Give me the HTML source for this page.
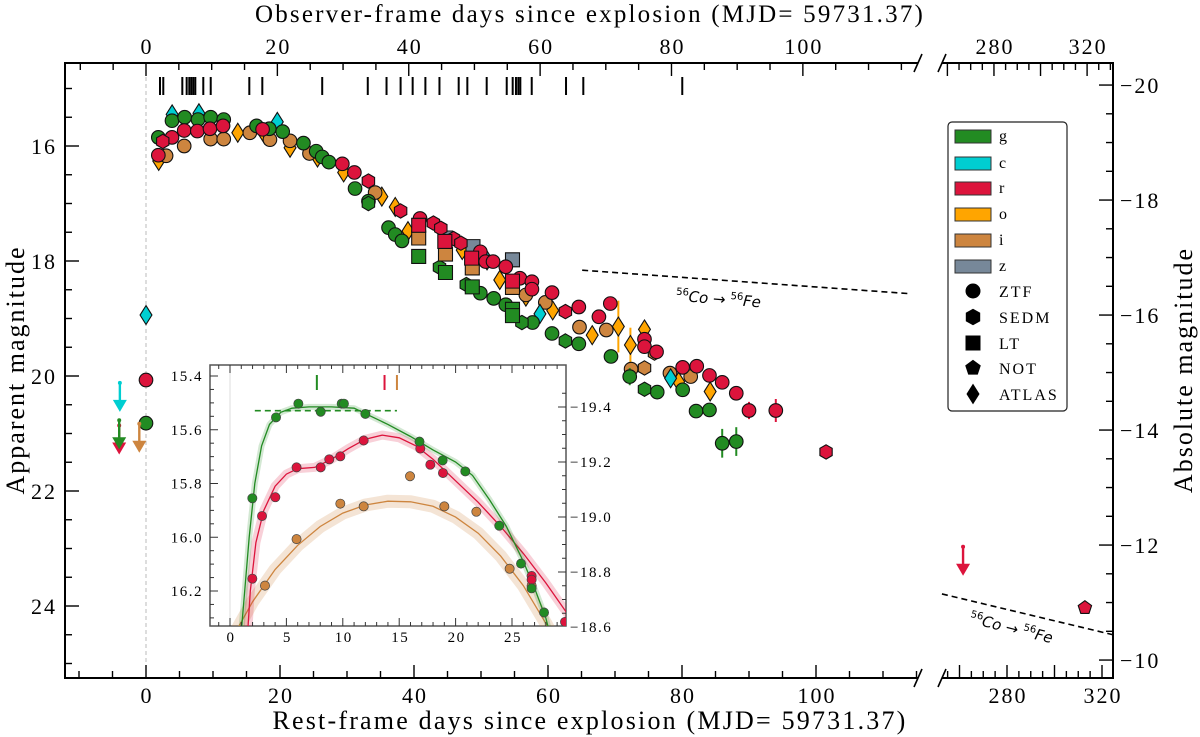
<!DOCTYPE html>
<html><head><meta charset="utf-8"><title>Light curve</title>
<style>
html,body{margin:0;padding:0;background:#fff;}
svg{display:block;font-family:"Liberation Serif","DejaVu Serif",serif;}
</style></head>
<body>
<svg id="chart" width="1200" height="737" viewBox="0 0 1200 737" xmlns="http://www.w3.org/2000/svg">
<defs>
<clipPath id="clipL"><rect x="65" y="63" width="853" height="615"/></clipPath>
<clipPath id="clipR"><rect x="942" y="63" width="171" height="615"/></clipPath>
<clipPath id="clipI"><rect x="210" y="365" width="356" height="261"/></clipPath>
</defs>
<text x="590" y="22" text-anchor="middle" font-size="25" letter-spacing="2.2">Observer-frame days since explosion (MJD= 59731.37)</text>
<text x="590" y="729" text-anchor="middle" font-size="26" letter-spacing="2.2">Rest-frame days since explosion (MJD= 59731.37)</text>
<text transform="translate(24,370) rotate(-90)" text-anchor="middle" font-size="26" letter-spacing="2">Apparent magnitude</text>
<text transform="translate(1192,370) rotate(-90)" text-anchor="middle" font-size="26" letter-spacing="2">Absolute magnitude</text>
<g id="axes"></g>
<g id="data"></g>
<g id="inset"></g>
<g id="legend"></g>
</svg>
<script>
// ---------- data (rest-frame day, apparent magnitude) ----------
const obsEpochs = [2.09,2.58,5.42,6.07,6.46,6.76,7.06,7.36,8.55,9.66,15.42,17.36,26.3,33.1,35.9,38.0,39.8,41.7,43.8,46.67,47.96,50.85,53.84,54.73,55.22,55.57,55.87,57.57,62.69,65.27,80.04];

const gZTF = [[1.84,15.85],[3.88,15.56],[5.77,15.50],[7.76,15.54],[9.65,15.50],[11.6,15.54],[16.5,15.65],[18.4,15.70],[20.4,15.75],[23.5,15.95],[25.4,16.09],[26.3,16.19],[27.3,16.28],[31.2,16.74],[33.2,16.96],[36.2,17.42],[37.2,17.54],[38.2,17.65],[49.9,18.56],[51.9,18.65],[53.7,18.76],[57.7,19.07],[60.6,19.26],[64.6,19.44],[69.4,19.66],[72.2,20.01],[76.3,20.28],[80.1,20.24],[82.1,20.61],[84.1,20.59],[86.0,21.17],[88.1,21.14],[0,20.82]];
const gZTFerr = [0,0,0,0,0,0,0,0,0,0,0,0,0,0,0,0,0,0,0,0,0,0,0,0,0,0.15,0.08,0,0.12,0.12,0.25,0.25,0.12];
const gSEDM = [[33.2,17.0],[43.8,18.11],[47.8,18.41],[56.1,19.07],[62.6,19.39],[74.4,20.23]];
const gLT = [[40.7,17.92],[44.7,18.2],[48.7,18.45],[54.7,18.84],[54.7,18.95]];
const cATLAS = [[0,18.94],[3.9,15.45],[7.9,15.43],[19.6,15.58],[50.9,17.99],[58.8,18.92],[78.3,20.04]];
const rZTF = [[1.84,16.16],[3.88,15.85],[5.7,15.73],[7.66,15.74],[9.55,15.70],[11.5,15.65],[17.4,15.71],[29.3,16.31],[31.1,16.46],[40.9,17.26],[49.9,17.84],[50.7,18.01],[51.8,18.01],[53.7,18.10],[55.8,18.30],[57.6,18.36],[57.6,18.49],[60.6,18.55],[64.6,18.80],[67.6,18.97],[69.3,18.74],[74.4,19.36],[74.4,19.49],[76.2,19.58],[80.1,19.85],[82.2,19.83],[84.1,19.99],[86.0,20.11],[88.1,20.30],[90.0,20.60],[94.0,20.60],[0,20.07]];
const rZTFerr = [0,0,0,0,0,0,0,0,0,0,0,0,0,0,0,0,0,0,0,0,0,0,0,0,0,0,0,0,0,0.15,0.2,0];
const rSEDM = [[2.5,15.92],[33.2,16.61],[38.0,17.13],[42.9,17.34],[44.0,17.43],[45.9,17.61],[47.0,17.69],[62.6,18.88],[101.5,21.32]];
const rLT = [[40.7,17.38],[44.6,17.66],[48.6,17.95],[54.7,18.35]];
const rNOT = [[312.8,24.03]];
const oATLAS = [[1.9,16.26],[13.7,15.77],[17.7,15.80],[21.5,16.03],[25.6,16.2],[29.5,16.46],[35.2,16.88],[37.2,17.06],[39.1,17.48],[47.2,17.81],[52.8,18.33],[56.7,18.62],[60.7,18.86],[66.6,19.29],[70.5,19.14],[72.3,19.46],[74.4,19.19],[79.5,20.1],[84.2,20.27]];
const oATLASerr = [0,0,0,0,0,0,0,0,0,0,0,0,0,0,0.45,0.3,0.1,0,0.15];
const iZTF = [[3.0,16.17],[5.7,16.0],[9.65,15.88],[11.6,15.88],[15.5,15.77],[18.5,15.89],[21.5,15.91],[24.4,16.13],[34.2,16.81],[56.7,18.59],[59.6,18.72],[64.7,19.15],[68.7,19.20],[72.4,19.88],[78.2,19.95],[81.3,20.01]];
const iSEDM = [[74.4,19.86],[75.9,19.6]];
const iLT = [[40.7,17.6],[44.7,17.88],[48.7,18.12],[54.7,18.46]];
const zLT = [[44.7,17.6],[48.8,17.75],[54.7,17.98]];
// upper limits: [day, mag]
const limC = [[-3.9,20.12]];
const limG = [[-4.0,20.77]];
const limR = [[-4.0,20.86],[261.5,22.97]];
const limI = [[-1.0,20.83]];

// inset data
const inG = [[1.98,15.855],[4.08,15.554],[6.06,15.503],[8.04,15.533],[9.9,15.503],[10.1,15.503],[12.0,15.541],[16.8,15.644],[18.85,15.714],[20.86,15.755],[23.87,15.957],[25.8,16.098],[26.74,16.19],[27.84,16.28]];
const inR = [[1.98,16.154],[2.84,15.921],[4.02,15.851],[5.9,15.74],[8.04,15.74],[8.8,15.71],[9.78,15.699],[11.85,15.64],[16.87,15.67],[17.76,15.73],[18.88,15.761],[26.74,16.144],[26.74,16.158],[29.7,16.315]];
const inI = [[3.1,16.18],[5.9,16.007],[9.78,15.875],[11.85,15.885],[15.96,15.773],[19.0,15.885],[21.84,15.905],[24.79,16.117],[26.74,16.18]];
const fitG = [[0.9,16.4],[1.3,16.2],[1.7,16.0],[2.2,15.8],[2.8,15.66],[3.5,15.58],[4.5,15.535],[5.5,15.52],[7,15.515],[9,15.515],[11,15.52],[12.5,15.55],[14,15.58],[16,15.625],[18,15.675],[20,15.72],[21.5,15.77],[23,15.86],[24.5,15.96],[26,16.09],[27,16.19],[28,16.3],[28.6,16.4]];
const fitR = [[1.5,16.4],[1.8,16.2],[2.3,16.02],[3,15.9],[4,15.81],[5,15.765],[6,15.745],[7.5,15.74],[9,15.71],[10.5,15.67],[12,15.635],[13.5,15.62],[15,15.63],[16.5,15.66],[18,15.71],[20,15.79],[22,15.87],[24,15.96],[26,16.06],[28,16.17],[30,16.29]];
const fitI = [[0.4,16.36],[2,16.24],[4,16.12],[6,16.03],[8,15.96],[10,15.91],[12,15.88],[14,15.866],[16,15.868],[18,15.885],[20,15.925],[22,15.985],[24,16.07],[26,16.18],[28,16.32],[29,16.4]];
const peakG = [7.7], peakR = [13.7], peakI = [14.8];
const plateauG = [[2.2,14.8],[15.529]];

// tick labels
const bottomTicksL = [0,20,40,60,80,100];
const bottomTicksR = [280,320];
const topTicksL = [0,20,40,60,80,100];
const topTicksR = [280,320];
const leftTicks = [16,18,20,22,24];
const rightTicks = [-20,-18,-16,-14,-12,-10];
const insetXTicks = [0,5,10,15,20,25];
const insetYTicks = [15.4,15.6,15.8,16.0,16.2];
const insetAbsTicks = [-19.4,-19.2,-19.0,-18.8,-18.6];

// ---------- scales ----------
const Z1 = 1.02;
const DM = 34.94;
function xL(d){return 146+6.7*d;}
function xR(d){return 1007+(d-280)*2.375;}
function X(d){return d>200?xR(d):xL(d);}
function Y(m){return 146+(m-16)*57.5;}
function YA(a){return Y(a+DM);}
function xi(d){return 230+11.28*d;}
function yi(m){return 376+(m-15.4)*268.75;}
function yiA(a){return 407+(a+19.4)*275;}

const NS='http://www.w3.org/2000/svg';
function el(tag,attrs,parent){const e=document.createElementNS(NS,tag);for(const k in attrs)e.setAttribute(k,attrs[k]);parent.appendChild(e);return e;}
const axes=document.getElementById('axes'), data=document.getElementById('data'), inset=document.getElementById('inset'), legend=document.getElementById('legend');

// ---------- frame ----------
const fr={stroke:'#000','stroke-width':2,fill:'none'};
let f;
f=el('polyline',Object.assign({points:'918,63 65,63 65,678 918,678'},fr),axes);


f=el('polyline',Object.assign({points:'942,63 1113,63 1113,678 942,678'},fr),axes);


[[918,63],[942,63],[918,678],[942,678]].forEach(p=>{
  const b=el('line',{x1:p[0]-4,y1:p[1]+9,x2:p[0]+4,y2:p[1]-9,stroke:'#000','stroke-width':1.6},axes);
  
  
});
f=el('line',{x1:xL(0),y1:63,x2:xL(0),y2:678,stroke:'#bbb','stroke-width':1,'stroke-dasharray':'4,3'},axes);



function tick(x1,y1,x2,y2){const t=el('line',{x1,y1,x2,y2,stroke:'#000','stroke-width':1.4},axes);}
function label(x,y,txt,anchor,size,name,ls){const t=el('text',{x,y,'text-anchor':anchor,'font-size':size,'letter-spacing':ls||2},axes);t.textContent=txt;return t;}

for(let d=-10;d<=115;d+=5){const x=xL(d);if(x<66||x>917)continue;const maj=d%20===0;tick(x,678,x,678-(maj?13:7));}
for(let d=255;d<=325;d+=5){const x=xR(d);if(x<943||x>1112)continue;const maj=d%20===0;tick(x,678,x,678-(maj?13:7));}
bottomTicksL.forEach(d=>label(xL(d)+1,703,String(d),'middle',22,'x-tick-label'));
bottomTicksR.forEach(d=>label(xR(d)+1,703,String(d),'middle',22,'x-tick-label'));
for(let o=-10;o<=120;o+=5){const x=xL(o/Z1);if(x<66||x>917)continue;const maj=o%20===0;tick(x,63,x,63+(maj?13:7));}
for(let o=255;o<=330;o+=5){const x=xR(o/Z1);if(x<943||x>1112)continue;const maj=o%20===0;tick(x,63,x,63+(maj?13:7));}
topTicksL.forEach(o=>label(xL(o/Z1)+1,54,String(o),'middle',22,'top-tick-label'));
topTicksR.forEach(o=>label(xR(o/Z1)+1,54,String(o),'middle',22,'top-tick-label'));
for(let m=14.5;m<=25.25;m+=0.5){const y=Y(m);if(y<64||y>677)continue;const maj=m%2===0;tick(65,y,65+(maj?14:7),y);}
leftTicks.forEach(m=>label(57,Y(m)+8,String(m),'end',22,'y-tick-label'));
for(let a=-20.5;a<=-9.5;a+=0.5){const y=YA(a);if(y<64||y>677)continue;const maj=a%2===0;tick(1113,y,1113-(maj?14:7),y);}
rightTicks.forEach(a=>label(1120,YA(a)+8,'\u2212'+Math.abs(a),'start',22,'right-tick-label'));

obsEpochs.forEach(d=>{const x=X(d);const t=el('line',{x1:x,y1:77,x2:x,y2:95,stroke:'#000','stroke-width':2},data);

});

function coLine(d1,m1,d2,m2,tx,ty,rot,name){
  const l=el('line',{x1:X(d1),y1:Y(m1),x2:X(d2),y2:Y(m2),stroke:'#000','stroke-width':1.6,'stroke-dasharray':'6,4'},data);
  
  
  const t=el('text',{transform:`translate(${tx},${ty}) rotate(${rot})`,'font-family':'"DejaVu Sans",sans-serif','font-size':15,'font-style':'italic','text-anchor':'middle'},data);
  t.innerHTML='<tspan font-size="10" dy="-6" font-style="normal">56</tspan><tspan dy="6">Co</tspan><tspan font-style="normal"> \u2192 </tspan><tspan font-size="10" dy="-6" font-style="normal">56</tspan><tspan dy="6">Fe</tspan>';
  
  
}
coLine(65.1,18.16,114.2,18.57,718,304,4.5,'co-decay-line-early');
coLine(252.6,23.79,324.6,24.50,1010,633,14,'co-decay-line-late');

const COL={g:'#228B22',c:'#00CED1',r:'#DC143C',o:'#FFA500',i:'#CD853F',z:'#778899'};
function shapePath(shape,cx,cy,s){
  if(shape==='square')return `M${cx-s},${cy-s}H${cx+s}V${cy+s}H${cx-s}Z`;
  if(shape==='diamond')return `M${cx},${cy-s*1.35}L${cx+s*0.85},${cy}L${cx},${cy+s*1.35}L${cx-s*0.85},${cy}Z`;
  let n=shape==='hex'?6:5,r=shape==='hex'?s*1.1:s*1.08,pts=[];
  for(let k=0;k<n;k++){const a=-Math.PI/2+k*2*Math.PI/n;pts.push((cx+r*Math.cos(a)).toFixed(1)+','+(cy+r*Math.sin(a)).toFixed(1));}
  return 'M'+pts.join('L')+'Z';
}
function drawMarker(parent,shape,cx,cy,s,fill,stroke,sw){
  let e;
  if(shape==='circle')e=el('circle',{cx,cy,r:s,fill,stroke,'stroke-width':sw},parent);
  else e=el('path',{d:shapePath(shape,cx,cy,s),fill,stroke,'stroke-width':sw},parent);
  return e;
}
const gL=el('g',{'clip-path':'url(#clipL)'},data), gR=el('g',{'clip-path':'url(#clipR)'},data);
function series(pts,err,band,shape,name){
  pts.forEach((p,k)=>{
    const par=p[0]>200?gR:gL; const cx=X(p[0]),cy=Y(p[1]);
    if(err&&err[k]){const eb=el('line',{x1:cx,y1:Y(p[1]-err[k]),x2:cx,y2:Y(p[1]+err[k]),stroke:COL[band],'stroke-width':2},par);
      
      }
    const s=shape==='circle'?6.8:shape==='square'?7:shape==='diamond'?7:6.5;
    const m=drawMarker(par,shape,cx,cy,s,COL[band],'#111',1.1);
    
    
  });
}
series(oATLAS,oATLASerr,'o','diamond','o-atlas');
series(iZTF,null,'i','circle','i-ztf');
series(iSEDM,null,'i','hex','i-sedm');
series(cATLAS,null,'c','diamond','c-atlas');
series(gZTF,gZTFerr,'g','circle','g-ztf');
series(gSEDM,null,'g','hex','g-sedm');
series(zLT,null,'z','square','z-lt');
series(iLT,null,'i','square','i-lt');
series(gLT,null,'g','square','g-lt');
series(rZTF,rZTFerr,'r','circle','r-ztf');
series(rSEDM,null,'r','hex','r-sedm');
series(rLT,null,'r','square','r-lt');
series(rNOT,[0.05],'r','pentagon','r-not');

function limits(pts,band,name){
  pts.forEach(p=>{const x=X(p[0]),y=Y(p[1]);const g=el('g',{},data);
    el('line',{x1:x,y1:y,x2:x,y2:y+20,stroke:COL[band],'stroke-width':2.4},g);
    el('path',{d:`M${x-7},${y+17}L${x+7},${y+17}L${x},${y+29}Z`,fill:COL[band]},g);
    el('circle',{cx:x,cy:y,r:2,fill:COL[band]},g);
    
    });
}
limits(limC,'c','c');limits(limR,'r','r');limits(limG,'g','g');limits(limI,'i','i');

// ---------- inset ----------
const ibg=el('rect',{x:210,y:365,width:356,height:261,fill:'#fff',stroke:'#555','stroke-width':1.5},inset);


const ic=el('g',{'clip-path':'url(#clipI)'},inset);
el('line',{x1:xi(0),y1:365,x2:xi(0),y2:626,stroke:'#ddd','stroke-width':1},ic);
function fitPath(arr){return arr.map((p,k)=>(k?'L':'M')+xi(p[0]).toFixed(1)+','+yi(p[1]).toFixed(1)).join('');}
[[fitI,'#CD853F','i'],[fitR,'#DC143C','r'],[fitG,'#228B22','g']].forEach(o=>{
  const band=el('path',{d:fitPath(o[0]),fill:'none',stroke:o[1],'stroke-opacity':o[2]==='i'?0.22:0.2,'stroke-width':o[2]==='i'?13:o[2]==='r'?9:6,'stroke-linejoin':'round'},ic);
  
  
  const ln=el('path',{d:fitPath(o[0]),fill:'none',stroke:o[1],'stroke-width':1.3},ic);
  
  
});
const pl=el('line',{x1:xi(plateauG[0][0]),y1:yi(plateauG[1][0]),x2:xi(plateauG[0][1]),y2:yi(plateauG[1][0]),stroke:'#228B22','stroke-width':1.6,'stroke-dasharray':'6,4'},ic);


[[peakG,'#228B22'],[peakR,'#DC143C'],[peakI,'#CD853F']].forEach(o=>{o[0].forEach(d=>{
  const t=el('line',{x1:xi(d),y1:375,x2:xi(d),y2:390,stroke:o[1],'stroke-width':2},ic);
  
  });});
[[inI,'#CD853F','i'],[inR,'#DC143C','r'],[inG,'#228B22','g']].forEach(o=>{o[0].forEach(p=>{
  const c=el('circle',{cx:xi(p[0]),cy:yi(p[1]),r:4.6,fill:o[1],stroke:'#444','stroke-width':0.7},ic);
  
  });});
function itick(x1,y1,x2,y2){const t=el('line',{x1,y1,x2,y2,stroke:'#333','stroke-width':1},inset);}
for(let d=-1;d<=29;d++){const x=xi(d);if(x<211||x>565)continue;const maj=d%5===0;itick(x,626,x,626-(maj?8:4));itick(x,365,x,365+(maj?8:4));}
for(let k=0;k<=20;k++){const m=15.35+k*0.05;const y=yi(m);if(y<366||y>625)continue;itick(210,y,210+(Math.round(m*100)%20===0?8:4),y);}
for(let k=0;k<=20;k++){const a=-19.45+k*0.05;const y=yiA(a);if(y<366||y>625)continue;itick(566,y,566-(Math.round(Math.abs(a)*100)%20===0?8:4),y);}
function ilabel(x,y,txt,anchor,name){const t=el('text',{x,y,'text-anchor':anchor,'font-size':15,'letter-spacing':1.5},inset);t.textContent=txt;}
insetXTicks.forEach(d=>ilabel(xi(d)+1,642,String(d),'middle','inset-x-tick-label'));
insetYTicks.forEach(m=>ilabel(203,yi(m)+5,m.toFixed(1),'end','inset-y-tick-label'));
insetAbsTicks.forEach(a=>ilabel(570,yiA(a)+5,'\u2212'+Math.abs(a).toFixed(1),'start','inset-abs-tick-label'));

// ---------- legend ----------
const lb=el('rect',{x:948,y:122,width:119,height:289,rx:4,fill:'#fff',stroke:'#222','stroke-width':1.2},legend);


const bandNames=['g','c','r','o','i','z'];
const bandYs=[136,163,188,214,240,266];
bandNames.forEach((b,k)=>{const g=el('g',{},legend);
  el('rect',{x:955,y:bandYs[k]-6,width:36,height:13,fill:COL[b],stroke:'#333','stroke-width':1},g);
  const t=el('text',{x:999,y:bandYs[k]+5,'font-size':16},g);t.textContent=b;
  
  });
const instNames=['ZTF','SEDM','LT','NOT','ATLAS'];
const instShapes=['circle','hex','square','pentagon','diamond'];
const instYs=[291,317,343,368,394];
instNames.forEach((n,k)=>{const g=el('g',{},legend);
  drawMarker(g,instShapes[k],973,instYs[k],7,'#000','#000',1);
  const t=el('text',{x:999,y:instYs[k]+6,'font-size':16,'letter-spacing':2},g);t.textContent=n;
  
  });
</script>
</body></html>
